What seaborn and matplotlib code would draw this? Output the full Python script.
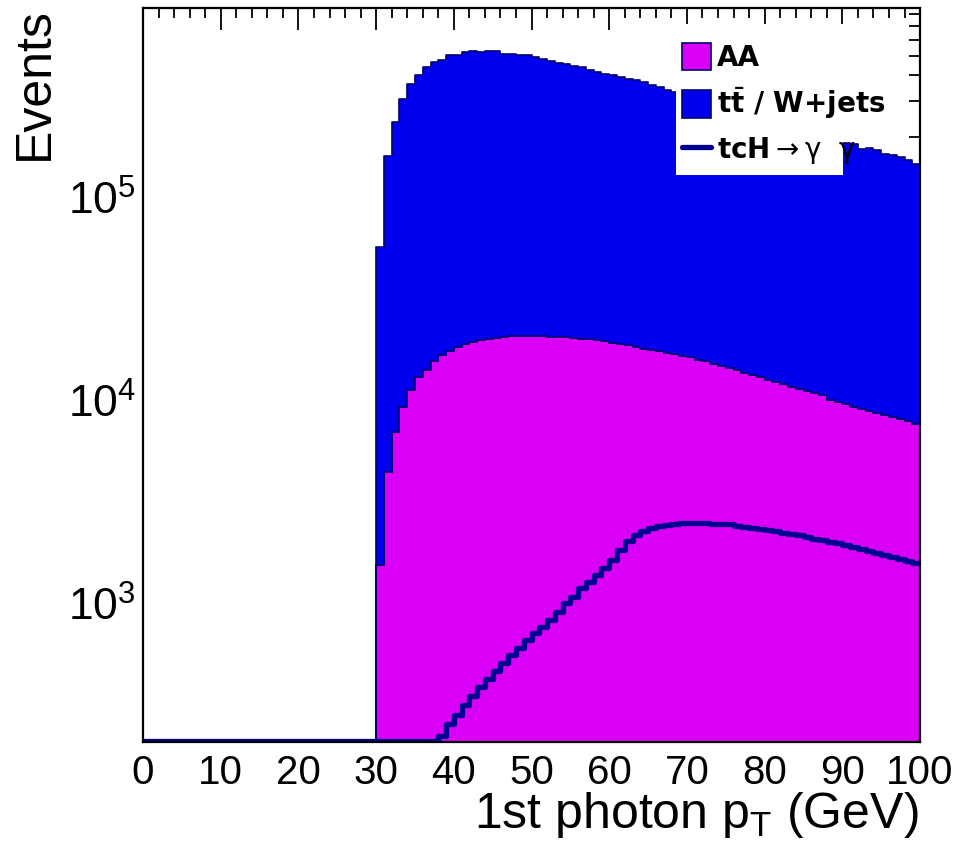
import numpy as np
import pandas as pd
import matplotlib
matplotlib.use("Agg")
import matplotlib.pyplot as plt
from matplotlib.ticker import MultipleLocator, LogLocator, NullFormatter
from matplotlib.patches import Patch, Rectangle
from matplotlib.lines import Line2D
import seaborn as sns

# ---------------- data (1 GeV bins, 0..100) ----------------
x_min, x_max, n_bins = 0, 100, 100
start_bkg = 30   # first non-empty background bin
start_sig = 38   # first non-empty signal bin

# AA (bottom of stack), bins 30..99
aa_values = [1540, 4440, 7030, 9270, 11300, 13000, 14200, 15600, 16800, 17600,
             18300, 18900, 19400, 19800, 20000, 20400, 20600, 20700, 20700, 20700,
             20700, 20700, 20600, 20600, 20500, 20400, 20200, 20000, 19800, 19600,
             19300, 19000, 18700, 18300, 18000, 17800, 17500, 17200, 17000, 16600,
             16300, 15900, 15600, 15200, 14800, 14500, 14100, 13700, 13300, 13000,
             12600, 12300, 12000, 11700, 11400, 11200, 10900, 10600, 10100, 9800,
             9600, 9300, 9100, 8900, 8700, 8500, 8300, 8100, 7900, 7700]

# tt / W+jets (stacked on top of AA), bins 30..99
ttw_values = [55600, 155600, 230000, 295700, 351700, 389000, 425800, 448400, 462200, 484400,
              483700, 501100, 506600, 502200, 506000, 507600, 491400, 491300, 481300, 481300,
              472300, 463300, 450400, 441400, 433500, 424600, 419800, 404000, 396200, 388400,
              380700, 374000, 366300, 362700, 353000, 343200, 333500, 320800, 314000, 307400,
              300700, 294100, 287400, 280800, 273200, 266500, 259900, 253300, 246700, 240000,
              233400, 226700, 221000, 214300, 208600, 202800, 197100, 191400, 185900, 180200,
              175400, 173700, 164900, 167100, 162300, 156500, 153700, 149900, 145100, 139300]

# tcH -> gamma gamma signal (not stacked), bins 38..99
tch_values = [222, 254, 282, 316, 349, 386, 422, 466, 510, 556,
              600, 659, 712, 767, 828, 910, 1000, 1078, 1186, 1277,
              1378, 1487, 1634, 1831, 2034, 2170, 2279, 2340, 2402, 2432,
              2459, 2478, 2478, 2478, 2478, 2466, 2459, 2450, 2410, 2383,
              2356, 2330, 2296, 2262, 2228, 2195, 2161, 2128, 2088, 2050,
              2012, 1975, 1937, 1894, 1852, 1810, 1769, 1729, 1687, 1648,
              1610, 1574]

labels = ["AA",
          r"t$\bar{\mathdefault{t}}$ / W+jets",
          r"tcH$\rightarrow\mathrm{γ}\ \ \mathrm{γ}$"]
x_ticks = [0, 10, 20, 30, 40, 50, 60, 70, 80, 90, 100]
x_label = r"1st photon p$_{\mathdefault{T}}$ (GeV)"
y_label = "Events"

Y_MIN, Y_MAX = 208, 8.6e5

c_aa = "#DA00F5"
c_ttw = "#0000EE"
c_tch = "#000090"
c_edge = "#000070"

# ---------------- build table ----------------
edges = np.linspace(x_min, x_max, n_bins + 1)
centers = 0.5 * (edges[:-1] + edges[1:])
nb = len(centers)

def full(vals, start):
    arr = np.zeros(nb)
    arr[start:start + len(vals)] = vals
    return arr

aa = full(aa_values, start_bkg)
ttw = full(ttw_values, start_bkg)
tch = full(tch_values, start_sig)

bkg = pd.DataFrame({
    "pt": np.concatenate([centers, centers]),
    "events": np.concatenate([aa, ttw]),
    "sample": ["AA"] * nb + ["ttW"] * nb,
})
sig = pd.DataFrame({"pt": centers, "events": np.maximum(tch, Y_MIN * 1.005)})

# ---------------- style ----------------
sns.set_theme(style="white")
plt.rcParams["font.family"] = ["Liberation Sans", "DejaVu Sans"]
plt.rcParams["text.color"] = "black"
plt.rcParams["xtick.color"] = "black"
plt.rcParams["ytick.color"] = "black"
plt.rcParams["axes.labelcolor"] = "black"
plt.rcParams["mathtext.fontset"] = "dejavusans"

fig = plt.figure(figsize=(9.6, 8.56), dpi=100)
ax = fig.add_axes([0.1490, 0.1335, 0.8094, 0.8571])

sns.histplot(data=bkg, x="pt", weights="events", hue="sample",
             hue_order=["ttW", "AA"], multiple="stack", element="step",
             bins=n_bins, binrange=(x_min, x_max),
             palette={"AA": c_aa, "ttW": c_ttw}, alpha=1.0,
             edgecolor=c_edge, linewidth=1.2, legend=False, ax=ax)

# signal line (empty bins drawn on the axis floor, as ROOT does)
sns.histplot(data=sig, x="pt", weights="events", bins=n_bins, binrange=(x_min, x_max),
             element="step", fill=False, color=c_tch, linewidth=3.8, ax=ax)

ax.set_yscale("log")
ax.set_xlim(x_min, x_max)
ax.set_ylim(Y_MIN, Y_MAX)

ax.set_xticks(x_ticks)
ax.xaxis.set_minor_locator(MultipleLocator(2))
ax.yaxis.set_major_locator(LogLocator(base=10))
ax.yaxis.set_minor_locator(LogLocator(base=10, subs=np.arange(2, 10)))
ax.yaxis.set_minor_formatter(NullFormatter())

ax.tick_params(axis="both", which="both", direction="in", top=True, right=True,
               colors="black", labelcolor="black")
ax.tick_params(axis="x", which="major", length=15.5, width=1.3, labelsize=29, pad=9)
ax.tick_params(axis="x", which="minor", length=7.5, width=1.3)
ax.tick_params(axis="y", which="major", length=16.5, width=1.3, labelsize=32, pad=5)
ax.tick_params(axis="y", which="minor", length=8, width=1.3)

for s in ax.spines.values():
    s.set_visible(True)
    s.set_color("black")
    s.set_linewidth(1.6)
    s.set_zorder(5)
ax.set_xlabel("")
ax.set_ylabel("")

fig.text(0.957, 0.033, x_label, ha="right", va="baseline", fontsize=36, color="black")
fig.text(0.036, 0.992, y_label, ha="center", va="top", rotation=90, fontsize=36,
         color="black")

# white legend pad (ROOT legend box; text may overflow it)
ax.add_patch(Rectangle((68.6, 1.29e5), 90.1 - 68.6, 7.2e5 - 1.29e5,
                       facecolor="white", edgecolor="none", zorder=3))

handles = [Patch(facecolor=c_aa, edgecolor=c_edge, linewidth=1.2),
           Patch(facecolor=c_ttw, edgecolor=c_edge, linewidth=1.2),
           Line2D([0], [0], color=c_tch, linewidth=3.8)]
leg = ax.legend(handles, labels, loc="upper left", bbox_to_anchor=(0.694, 0.953),
                frameon=False,
                prop={"family": "DejaVu Sans", "weight": "bold", "size": 20},
                handlelength=1.05, handleheight=1.15, handletextpad=0.2,
                labelspacing=0.5, borderpad=0.0, borderaxespad=0.0)
leg.set_zorder(6)

fig.savefig("out.png", dpi=100)
